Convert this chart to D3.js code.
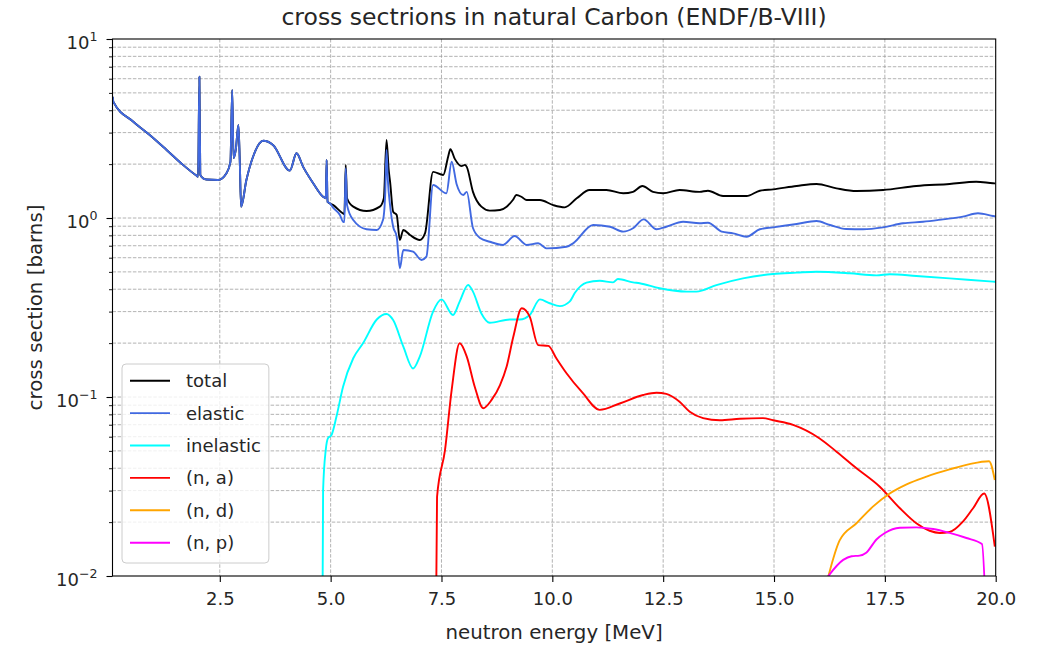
<!DOCTYPE html>
<html>
<head>
<meta charset="utf-8">
<script src="https://cdn.jsdelivr.net/npm/d3@7"></script>
<style>
  html, body { margin: 0; padding: 0; background: #ffffff; }
  svg { display: block; font-family: "DejaVu Sans", sans-serif; }
</style>
</head>
<body>
<svg id="chart" width="1043" height="649"></svg>
<script>
// ---------------- data (MeV, barns) ----------------
const totalE = [0.085,0.10,0.55,0.92,1.30,1.67,1.98,2.01,2.04,2.06,2.12,2.20,2.46,2.65,2.74,2.78,2.81,2.86,2.92,2.95,2.98,3.10,3.25,3.48,3.70,4.08,4.23,4.38,4.61,4.83,4.89,4.91,4.93,5.06,5.28,5.31,5.34,5.37,5.51,5.81,6.11,6.20,6.26,6.31,6.34,6.41,6.49,6.56,6.64,6.79,7.01,7.13,7.31,7.54,7.65,7.70,7.80,7.95,8.03,8.07,8.21,8.40,8.59,8.82,8.97,9.11,9.19,9.31,9.42,9.72,10.02,10.28,10.55,10.84,11.22,11.60,11.82,12.03,12.27,12.50,12.87,13.32,13.51,13.85,14.38,14.68,14.98,15.51,15.96,16.41,16.86,17.46,18.21,18.96,19.56,19.94,20.0];
const totalXS = [4.75,4.45,3.45,2.91,2.40,1.98,1.72,1.70,6.16,1.74,1.67,1.64,1.63,1.78,2.06,5.19,2.16,2.40,3.31,2.11,1.157,1.63,2.20,2.70,2.56,1.84,2.30,1.93,1.56,1.315,1.29,2.11,1.23,1.18,1.06,1.05,1.98,1.29,1.157,1.094,1.157,1.29,2.73,1.85,1.60,1.084,1.039,0.754,0.857,0.804,0.754,0.824,1.81,1.74,2.20,2.42,2.14,1.95,1.98,1.93,1.40,1.157,1.10,1.108,1.157,1.26,1.345,1.31,1.26,1.26,1.18,1.147,1.288,1.433,1.433,1.374,1.40,1.51,1.40,1.374,1.433,1.40,1.42,1.327,1.327,1.42,1.446,1.51,1.55,1.465,1.415,1.433,1.51,1.55,1.595,1.563,1.56];

const elasticE = [0.085,0.10,0.55,0.92,1.30,1.67,1.98,2.01,2.04,2.06,2.12,2.20,2.46,2.65,2.74,2.78,2.81,2.86,2.92,2.95,2.98,3.10,3.25,3.48,3.70,4.08,4.23,4.38,4.61,4.83,4.89,4.91,4.93,4.98,5.06,5.21,5.28,5.31,5.34,5.37,5.51,5.81,6.04,6.18,6.23,6.26,6.29,6.34,6.41,6.49,6.56,6.64,6.86,7.05,7.16,7.31,7.61,7.73,7.84,7.99,8.07,8.21,8.37,8.59,8.89,9.15,9.42,9.68,9.87,10.32,10.47,10.92,11.30,11.60,11.82,12.06,12.35,12.57,12.95,13.32,13.51,13.82,14.08,14.38,14.68,14.98,15.51,15.96,16.26,16.63,17.01,17.46,17.91,18.36,18.81,19.26,19.60,19.94,20.0];
const elasticXS = [4.75,4.45,3.45,2.91,2.40,1.98,1.72,1.70,6.16,1.74,1.67,1.64,1.63,1.78,2.06,5.19,2.16,2.40,3.31,2.11,1.157,1.63,2.20,2.70,2.56,1.84,2.30,1.93,1.56,1.315,1.29,2.11,1.23,1.21,1.137,1.039,0.953,0.95,1.90,1.18,0.974,0.865,0.857,0.974,1.345,2.40,1.63,1.18,0.894,0.786,0.524,0.663,0.648,0.583,0.608,1.53,1.374,2.06,1.55,1.345,1.40,0.879,0.773,0.737,0.707,0.793,0.707,0.722,0.677,0.691,0.722,0.914,0.894,0.839,0.876,0.983,0.865,0.894,0.953,0.934,0.941,0.839,0.821,0.786,0.865,0.887,0.926,0.962,0.914,0.868,0.865,0.887,0.934,0.953,0.983,1.017,1.062,1.026,1.02];

const inelasticE = [4.80,4.83,4.89,4.94,5.02,5.13,5.28,5.51,5.73,6.04,6.26,6.41,6.64,6.86,7.01,7.31,7.50,7.76,7.91,8.10,8.21,8.40,8.59,9.04,9.27,9.49,9.72,9.94,10.17,10.39,10.51,10.77,11.07,11.37,11.48,11.82,11.97,12.42,13.03,13.25,13.70,14.30,14.98,15.51,15.96,16.71,17.31,17.61,18.21,18.96,19.94,20.0];
const inelasticXS = [0.001,0.0302,0.0507,0.0589,0.0614,0.0775,0.1142,0.1646,0.1995,0.271,0.291,0.269,0.191,0.1443,0.168,0.300,0.351,0.287,0.341,0.422,0.388,0.293,0.260,0.271,0.271,0.287,0.351,0.334,0.322,0.341,0.382,0.435,0.446,0.437,0.456,0.437,0.432,0.405,0.388,0.388,0.422,0.460,0.487,0.495,0.501,0.491,0.478,0.485,0.474,0.460,0.441,0.44];

const naE = [7.35,7.40,7.58,7.73,7.91,8.07,8.25,8.44,8.63,8.82,8.97,9.12,9.31,9.49,9.68,9.91,10.09,10.32,10.69,11.07,11.52,12.05,12.35,12.57,12.87,13.10,13.40,13.78,14.23,14.75,14.98,15.43,16.03,16.41,16.86,17.38,17.84,18.21,18.51,18.74,18.96,19.26,19.49,19.74,19.98];
const naXS = [0.001,0.0277,0.0506,0.1096,0.1995,0.168,0.1142,0.0866,0.0963,0.1166,0.148,0.217,0.313,0.281,0.195,0.193,0.1646,0.1357,0.105,0.0847,0.0920,0.1026,0.1056,0.1040,0.0940,0.0827,0.0762,0.0741,0.0756,0.0762,0.0741,0.0699,0.0587,0.0495,0.0400,0.0316,0.0239,0.0197,0.0179,0.0174,0.0176,0.0201,0.0239,0.0289,0.0146];

const ndE = [16.18,16.48,16.86,17.23,17.61,17.99,18.44,18.96,19.41,19.85,19.98];
const ndXS = [0.009,0.0158,0.0197,0.0244,0.0289,0.0325,0.0359,0.0394,0.0422,0.0438,0.0344];

const npE = [16.16,16.56,16.75,16.93,17.08,17.31,17.50,17.84,18.21,18.59,18.96,19.34,19.69,19.79];
const npXS = [0.0095,0.0123,0.0129,0.0130,0.0135,0.0160,0.0174,0.0186,0.0187,0.0183,0.0174,0.0163,0.0151,0.005];

const seriesNames = ["total","elastic","inelastic","(n, a)","(n, d)","(n, p)"];
const seriesColors = ["#000000","#4169e1","#00ffff","#ff0000","#ffa500","#ff00ff"];

const xTicks = [2.5,5.0,7.5,10.0,12.5,15.0,17.5,20.0];
const yMajor = [0.01,0.1,1,10];
const yMajorExp = ["\u22122","\u22121","0","1"];

const titleText = "cross sectrions in natural Carbon (ENDF/B-VIII)";
const xLabelText = "neutron energy [MeV]";
const yLabelText = "cross section [barns]";

// ---------------- layout ----------------
const L = 112.5, R = 995.7, T = 39, B = 576;
const svg = d3.select("#chart");

const x = d3.scaleLinear().domain([0.08, 20]).range([L, R]);
const y = d3.scaleLog().domain([0.01, 10]).range([B, T]);

const yMinor = [];
[0.01,0.1,1].forEach(d => { for (let k = 2; k <= 9; k++) yMinor.push(+(d*k).toPrecision(3)); });

// grid
const grid = svg.append("g").attr("stroke","#a0a0a0").attr("stroke-width",0.8).attr("stroke-dasharray","3.5,1.6");
grid.selectAll("line.gx").data(xTicks.filter(t => t < 20)).join("line")
  .attr("x1", d => x(d)).attr("x2", d => x(d)).attr("y1", T).attr("y2", B);
grid.selectAll("line.gy").data(yMajor.concat(yMinor).filter(v => v > 0.01 && v < 10)).join("line")
  .attr("x1", L).attr("x2", R).attr("y1", d => y(d)).attr("y2", d => y(d));

// clip
svg.append("clipPath").attr("id","plotclip").append("rect")
  .attr("x", L).attr("y", T).attr("width", R - L).attr("height", B - T);

const series = [
  [totalE, totalXS], [elasticE, elasticXS], [inelasticE, inelasticXS],
  [naE, naXS], [ndE, ndXS], [npE, npXS]
];
const line = d3.line().x(d => x(d[0])).y(d => y(Math.max(d[1], 1e-4))).curve(d3.curveMonotoneX);
const lines = svg.append("g").attr("clip-path","url(#plotclip)");
series.forEach((s, i) => {
  const pts = s[0].map((e, j) => [e, s[1][j]]);
  lines.append("path").datum(pts).attr("d", line)
    .attr("fill","none").attr("stroke", seriesColors[i]).attr("stroke-width", 1.9)
    .attr("stroke-linejoin","round");
});

// axes
const xAxis = d3.axisBottom(x).tickValues(xTicks).tickFormat(d => d.toFixed(1)).tickSize(6).tickPadding(6);
const gx = svg.append("g").attr("transform", `translate(0,${B})`).call(xAxis);
gx.select(".domain").remove();
gx.selectAll(".tick line").attr("stroke","#000").attr("stroke-width",1.1);
gx.selectAll(".tick text").attr("font-size", 18).attr("fill","#262626")
  .attr("font-family","DejaVu Sans").attr("dy", null).attr("y", 29);

const yAxisMinor = d3.axisLeft(y).tickValues(yMinor).tickFormat("").tickSize(3.5);
const gym = svg.append("g").attr("transform", `translate(${L},0)`).call(yAxisMinor);
gym.select(".domain").remove();
gym.selectAll(".tick line").attr("stroke","#000").attr("stroke-width",0.9);

const yAxisMajor = d3.axisLeft(y).tickValues(yMajor).tickFormat("").tickSize(6);
const gy = svg.append("g").attr("transform", `translate(${L},0)`).call(yAxisMajor);
gy.select(".domain").remove();
gy.selectAll(".tick line").attr("stroke","#000").attr("stroke-width",1.1);
gy.selectAll(".tick").each(function(d, i) {
  const t = d3.select(this).append("text")
    .attr("x", -15).attr("y", 9.3).attr("text-anchor","end")
    .attr("fill","#262626").attr("font-size", 18).attr("font-family","DejaVu Sans");
  t.append("tspan").text("10");
  t.append("tspan").attr("dy", -8).attr("font-size", 12.6).text(yMajorExp[i]);
});

// frame
svg.append("rect").attr("x", L).attr("y", T).attr("width", R - L).attr("height", B - T)
  .attr("fill","none").attr("stroke","#000").attr("stroke-width",1.1);

// labels
svg.append("text").attr("x", (L + R) / 2).attr("y", 25).attr("text-anchor","middle")
  .attr("font-size", 23.5).attr("fill","#262626").text(titleText);
svg.append("text").attr("x", (L + R) / 2).attr("y", 639).attr("text-anchor","middle")
  .attr("font-size", 19.8).attr("fill","#262626").text(xLabelText);
svg.append("text").attr("transform", `translate(42,${(T + B) / 2}) rotate(-90)`).attr("text-anchor","middle")
  .attr("font-size", 19.8).attr("fill","#262626").text(yLabelText);

// legend
const lg = svg.append("g");
const lgBox = lg.append("rect").attr("x", 122).attr("y", 364).attr("height", 199)
  .attr("rx", 4).attr("fill","#ffffff").attr("fill-opacity",0.8).attr("stroke","#cccccc").attr("stroke-width",1);
let maxW = 0;
seriesNames.forEach((n, i) => {
  const cy = 380.7 + i * 32.4;
  lg.append("line").attr("x1", 130).attr("x2", 170).attr("y1", cy).attr("y2", cy)
    .attr("stroke", seriesColors[i]).attr("stroke-width", 1.9);
  const t = lg.append("text").attr("x", 186).attr("y", cy + 6.4).attr("font-size", 18)
    .attr("fill","#262626").text(n);
  maxW = Math.max(maxW, t.node().getComputedTextLength());
});
lgBox.attr("width", 186 + maxW + 8 - 122);
</script>
</body>
</html>
